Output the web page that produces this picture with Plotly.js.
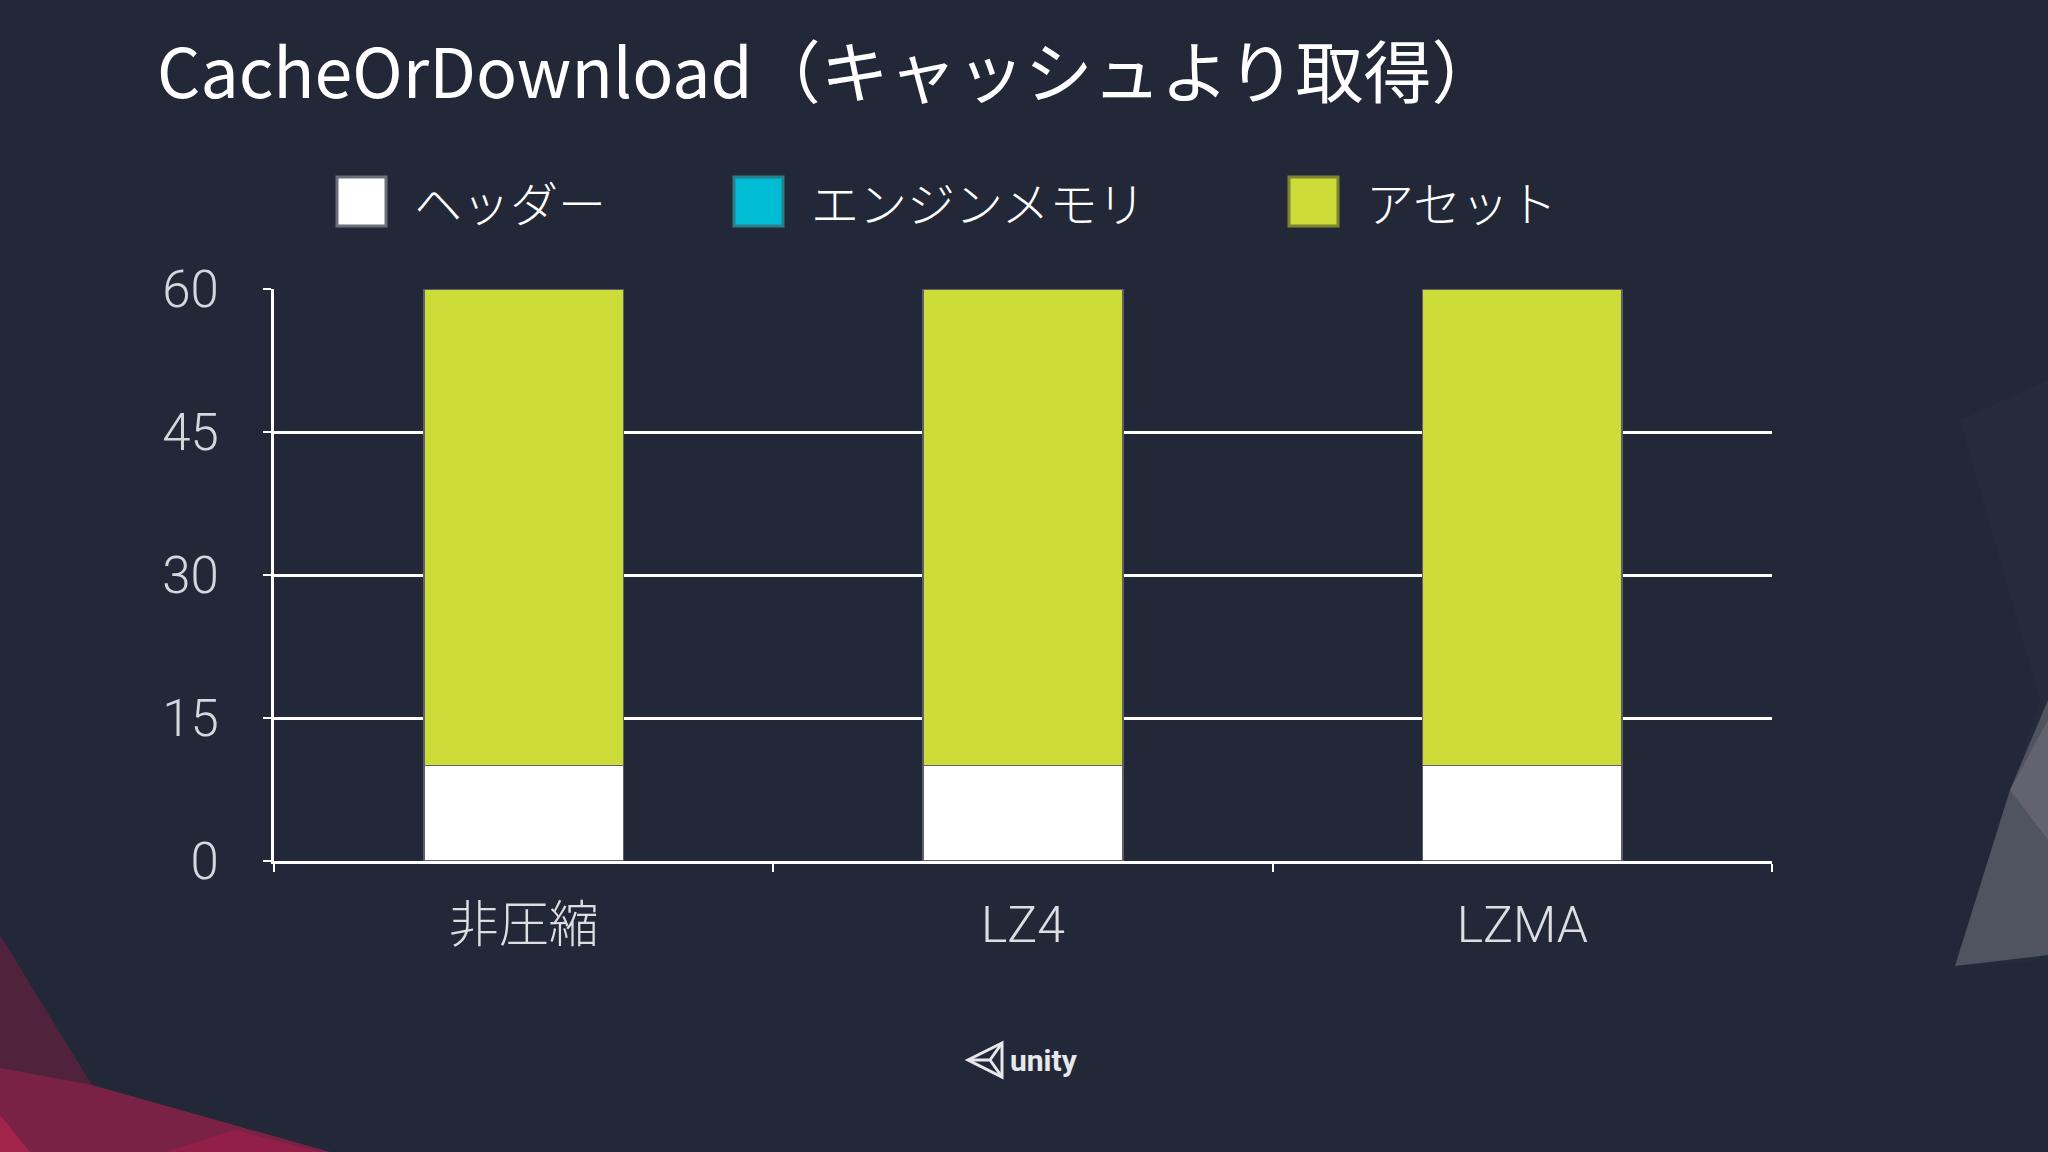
<!DOCTYPE html>
<html>
<head>
<meta charset="utf-8">
<script src="https://cdn.plot.ly/plotly-3.0.1.min.js"></script>
<style>
  html, body { margin: 0; padding: 0; background: #222837; }
  #chart { width: 2048px; height: 1152px; }
</style>
</head>
<body>
<div id="chart"></div>
<script>
// ---- data ----
const categories = ['非圧縮', 'LZ4', 'LZMA'];
const seriesNames = ['ヘッダー', 'エンジンメモリ', 'アセット'];
const header = [10, 10, 10];
const engineMemory = [0, 0, 0];
const asset = [50, 50, 50];
const yTickValues = [0, 15, 30, 45, 60];
const yTickLabels = ['0', '15', '30', '45', '60'];
const titleText = 'CacheOrDownload（キャッシュより取得）';

// ---- style ----
const seriesColors = ['#ffffff', '#00bcd4', '#cddc39'];
const seriesBorders = ['#6b6f78', '#2b7f8c', '#7c8530'];
const BG = '#222837';

const W = 2048, H = 1152;
const M = { l: 274, r: 276, t: 289, b: 291 };
const PW = W - M.l - M.r, PH = H - M.t - M.b;
const px = x => (x - M.l) / PW;
const py = y => (H - M.b - y) / PH;
function pathPx(points) {
  return 'M' + points.map(p => px(p[0]).toFixed(5) + ',' + py(p[1]).toFixed(5)).join('L') + 'Z';
}

const seriesValues = [header, engineMemory, asset];
const traces = seriesNames.map((name, i) => ({
  type: 'bar',
  name: name,
  x: categories,
  y: seriesValues[i],
  marker: { color: seriesColors[i], line: { color: '#5c606a', width: 1.5 } },
  showlegend: false,
  hoverinfo: 'x+y+name'
}));

// background decorations
const shapes = [
  { type: 'path', xref: 'paper', yref: 'paper', layer: 'below', line: { width: 0 },
    fillcolor: 'rgba(120,30,65,0.55)', path: pathPx([[0, 935], [92, 1085], [330, 1152], [0, 1152]]) },
  { type: 'path', xref: 'paper', yref: 'paper', layer: 'below', line: { width: 0 },
    fillcolor: 'rgba(150,35,75,0.6)', path: pathPx([[0, 1068], [92, 1085], [330, 1152], [0, 1152]]) },
  { type: 'path', xref: 'paper', yref: 'paper', layer: 'below', line: { width: 0 },
    fillcolor: 'rgba(180,35,80,0.7)', path: pathPx([[0, 1115], [30, 1152], [0, 1152]]) },
  { type: 'path', xref: 'paper', yref: 'paper', layer: 'below', line: { width: 0 },
    fillcolor: 'rgba(160,30,75,0.6)', path: pathPx([[165, 1152], [235, 1130], [320, 1152]]) },
  { type: 'path', xref: 'paper', yref: 'paper', layer: 'below', line: { width: 0 },
    fillcolor: 'rgba(60,64,80,0.12)', path: pathPx([[1960, 420], [2048, 380], [2048, 960], [1955, 966], [2040, 700]]) },
  { type: 'path', xref: 'paper', yref: 'paper', layer: 'below', line: { width: 0 },
    fillcolor: 'rgba(95,97,110,0.75)', path: pathPx([[2048, 700], [2010, 790], [1955, 966], [2048, 955]]) },
  { type: 'path', xref: 'paper', yref: 'paper', layer: 'below', line: { width: 0 },
    fillcolor: 'rgba(120,120,130,0.45)', path: pathPx([[2048, 720], [2010, 790], [2048, 840]]) }
];

// unity logo icon
shapes.push({ type: 'path', xref: 'paper', yref: 'paper', line: { color: '#e8e8ec', width: 3 },
  fillcolor: 'rgba(0,0,0,0)', path: pathPx([[1002, 1043], [968, 1060], [1002, 1077]]) });
shapes.push({ type: 'path', xref: 'paper', yref: 'paper', line: { color: '#e8e8ec', width: 3 },
  path: 'M' + px(990) + ',' + py(1060) + 'L' + px(1002) + ',' + py(1043) + 'M' + px(990) + ',' + py(1060) + 'L' + px(1002) + ',' + py(1077) + 'M' + px(990) + ',' + py(1060) + 'L' + px(970) + ',' + py(1060) });

// custom legend
const legendX = [337, 734, 1289];
const annotations = [];
seriesNames.forEach((name, i) => {
  const x0 = legendX[i];
  shapes.push({ type: 'rect', xref: 'paper', yref: 'paper',
    x0: px(x0), x1: px(x0 + 49), y0: py(226), y1: py(177),
    fillcolor: seriesColors[i], line: { color: seriesBorders[i], width: 3 } });
  annotations.push({ xref: 'paper', yref: 'paper', x: px(x0 + 75), y: py(201),
    xanchor: 'left', yanchor: 'middle', showarrow: false, text: name,
    font: { family: '"Noto Sans CJK JP", "Noto Sans", sans-serif', size: 48, color: '#ffffff', weight: 300 } });
});
annotations.push({ xref: 'paper', yref: 'paper', x: px(1008), y: py(1060),
  xanchor: 'left', yanchor: 'middle', showarrow: false, text: '<b>unity</b>',
  font: { family: 'Roboto, "Open Sans", sans-serif', size: 30, color: '#e8e8ec' } });

const layout = {
  width: W, height: H,
  margin: M,
  paper_bgcolor: BG,
  plot_bgcolor: BG,
  barmode: 'stack',
  bargap: 0.6,
  showlegend: false,
  title: {
    text: titleText,
    x: 157 / W, xref: 'container', xanchor: 'left',
    y: 1 - 74 / H, yref: 'container', yanchor: 'middle',
    font: { family: '"Noto Sans CJK JP", "Noto Sans", sans-serif', size: 68, color: '#ffffff' }
  },
  xaxis: {
    type: 'category',
    showgrid: false,
    showline: true, linecolor: '#ffffff', linewidth: 2.5,
    ticks: 'outside', tickson: 'boundaries', ticklen: 8, tickwidth: 2, tickcolor: '#ffffff',
    ticklabelstandoff: 18,
    tickfont: { family: 'Roboto, "Noto Sans CJK JP", sans-serif', size: 50, color: '#dcdee2', weight: 300 },
    zeroline: false
  },
  yaxis: {
    range: [0, 60],
    tickmode: 'array', tickvals: yTickValues, ticktext: yTickLabels,
    showgrid: true, gridcolor: '#ffffff', gridwidth: 3,
    showline: true, linecolor: '#ffffff', linewidth: 3,
    ticks: 'outside', ticklen: 8, tickwidth: 2.5, tickcolor: '#ffffff',
    ticklabelstandoff: 34,
    tickfont: { family: 'Roboto, sans-serif', size: 51, color: '#d4d7dc', weight: 300 },
    zeroline: false, fixedrange: true
  },
  shapes: shapes,
  annotations: annotations
};

Plotly.newPlot('chart', traces, layout, { displayModeBar: false, staticPlot: true });
</script>
</body>
</html>
